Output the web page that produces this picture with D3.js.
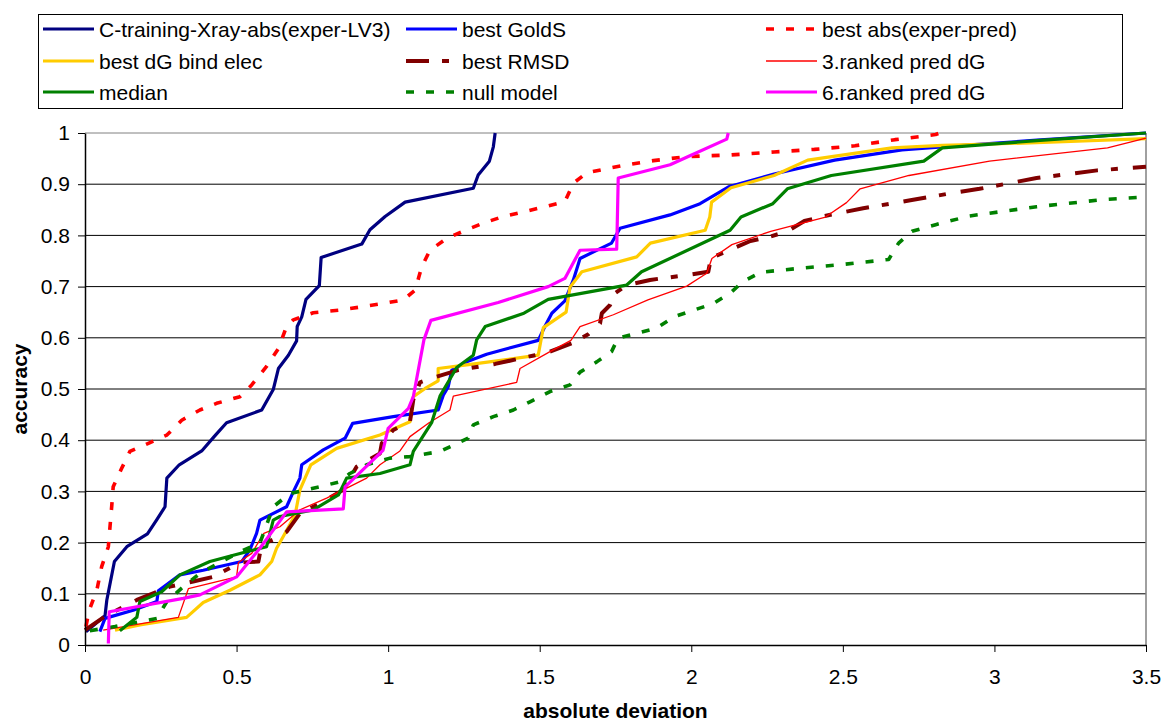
<!DOCTYPE html>
<html><head><meta charset="utf-8">
<script src="https://cdn.jsdelivr.net/npm/d3@7"></script>
<style>
body{margin:0;background:#fff}
text{font-family:"Liberation Sans",Arial,Helvetica,sans-serif;fill:#000}
</style>
</head><body>
<svg id="chart" width="1165" height="724"></svg>
<script>
// ---------- data ----------
const xTicks = [0, 0.5, 1, 1.5, 2, 2.5, 3, 3.5];
const yTicks = [0, 0.1, 0.2, 0.3, 0.4, 0.5, 0.6, 0.7, 0.8, 0.9, 1];
const xTitle = "absolute deviation";
const yTitle = "accuracy";

const cTraining = [[0.003,0.026],[0.066,0.057],[0.072,0.088],[0.097,0.163],[0.138,0.192],[0.206,0.217],[0.237,0.245],[0.264,0.270],[0.270,0.326],[0.311,0.352],[0.385,0.379],[0.426,0.407],[0.467,0.434],[0.583,0.459],[0.621,0.499],[0.638,0.540],[0.671,0.566],[0.698,0.594],[0.700,0.622],[0.715,0.641],[0.729,0.675],[0.773,0.702],[0.779,0.757],[0.913,0.783],[0.940,0.811],[0.990,0.837],[1.056,0.865],[1.281,0.892],[1.297,0.918],[1.334,0.945],[1.347,0.973],[1.353,1.0]];
const bestGoldS = [[0.049,0.026],[0.066,0.052],[0.159,0.068],[0.237,0.085],[0.242,0.106],[0.313,0.137],[0.390,0.146],[0.517,0.163],[0.544,0.186],[0.566,0.218],[0.577,0.244],[0.665,0.270],[0.687,0.299],[0.709,0.326],[0.715,0.352],[0.786,0.381],[0.858,0.404],[0.883,0.433],[1.017,0.446],[1.165,0.459],[1.182,0.488],[1.198,0.504],[1.210,0.537],[1.259,0.553],[1.325,0.568],[1.495,0.595],[1.517,0.622],[1.540,0.648],[1.583,0.672],[1.611,0.713],[1.633,0.755],[1.737,0.785],[1.765,0.814],[1.930,0.840],[2.029,0.862],[2.123,0.895],[2.273,0.920],[2.473,0.947],[2.695,0.967],[2.827,0.973],[3.140,0.986],[3.5,1.0]];
const bestAbs = [[0.003,0.036],[0.014,0.068],[0.039,0.107],[0.055,0.153],[0.077,0.192],[0.088,0.270],[0.093,0.309],[0.121,0.345],[0.148,0.378],[0.209,0.394],[0.270,0.410],[0.319,0.439],[0.379,0.459],[0.434,0.472],[0.511,0.485],[0.550,0.508],[0.599,0.544],[0.638,0.579],[0.665,0.622],[0.687,0.635],[0.753,0.649],[0.841,0.654],[0.907,0.660],[0.973,0.666],[1.050,0.674],[1.089,0.693],[1.111,0.739],[1.138,0.771],[1.193,0.794],[1.259,0.811],[1.314,0.824],[1.380,0.837],[1.446,0.846],[1.517,0.856],[1.583,0.866],[1.611,0.902],[1.655,0.922],[1.726,0.931],[1.798,0.939],[1.875,0.946],[1.985,0.954],[2.128,0.957],[2.273,0.963],[2.406,0.968],[2.540,0.975],[2.672,0.987],[2.806,0.997],[2.820,1.0]];
const bestDG = [[0.099,0.029],[0.181,0.039],[0.335,0.054],[0.390,0.083],[0.478,0.107],[0.577,0.137],[0.616,0.163],[0.632,0.189],[0.654,0.212],[0.693,0.254],[0.709,0.303],[0.745,0.352],[0.830,0.384],[0.973,0.410],[1.072,0.436],[1.083,0.485],[1.122,0.501],[1.165,0.516],[1.165,0.540],[1.259,0.547],[1.495,0.566],[1.512,0.620],[1.587,0.650],[1.600,0.699],[1.639,0.729],[1.820,0.758],[1.865,0.785],[2.046,0.810],[2.061,0.836],[2.067,0.865],[2.131,0.893],[2.273,0.917],[2.384,0.947],[2.662,0.971],[2.828,0.976],[3.139,0.981],[3.5,0.989]];
const bestRMSD = [[0.0,0.029],[0.066,0.056],[0.171,0.088],[0.280,0.114],[0.357,0.124],[0.423,0.133],[0.511,0.161],[0.572,0.163],[0.577,0.179],[0.594,0.199],[0.621,0.206],[0.665,0.221],[0.709,0.257],[0.786,0.280],[0.852,0.303],[0.896,0.348],[0.973,0.374],[0.979,0.394],[1.017,0.420],[1.072,0.436],[1.083,0.479],[1.105,0.513],[1.160,0.524],[1.231,0.537],[1.353,0.549],[1.484,0.566],[1.533,0.573],[1.605,0.589],[1.660,0.607],[1.699,0.628],[1.705,0.648],[1.732,0.664],[1.748,0.687],[1.787,0.703],[1.864,0.713],[1.990,0.723],[2.056,0.729],[2.065,0.756],[2.129,0.772],[2.195,0.789],[2.262,0.798],[2.317,0.808],[2.373,0.828],[2.440,0.838],[2.567,0.853],[2.718,0.868],[2.873,0.884],[2.951,0.891],[3.139,0.912],[3.339,0.927],[3.5,0.934]];
const ranked3 = [[0.060,0.029],[0.308,0.054],[0.341,0.110],[0.500,0.133],[0.506,0.161],[0.550,0.179],[0.590,0.218],[0.643,0.231],[0.709,0.264],[0.797,0.287],[0.852,0.303],[0.929,0.326],[0.973,0.352],[1.039,0.379],[1.072,0.407],[1.135,0.434],[1.204,0.459],[1.215,0.486],[1.424,0.513],[1.435,0.540],[1.534,0.573],[1.603,0.595],[1.633,0.622],[1.743,0.645],[1.857,0.674],[1.985,0.701],[2.051,0.726],[2.068,0.755],[2.134,0.782],[2.262,0.808],[2.373,0.825],[2.440,0.835],[2.512,0.864],[2.557,0.891],[2.718,0.917],[2.984,0.945],[3.373,0.971],[3.5,0.990]];
const median = [[0.115,0.028],[0.171,0.054],[0.181,0.085],[0.253,0.104],[0.313,0.137],[0.412,0.163],[0.533,0.182],[0.599,0.192],[0.621,0.244],[0.643,0.251],[0.753,0.264],[0.836,0.293],[0.863,0.326],[0.973,0.335],[1.072,0.352],[1.083,0.378],[1.144,0.435],[1.171,0.486],[1.226,0.542],[1.281,0.566],[1.292,0.596],[1.320,0.622],[1.448,0.648],[1.528,0.675],[1.787,0.703],[1.836,0.729],[2.128,0.810],[2.164,0.836],[2.269,0.862],[2.317,0.891],[2.462,0.917],[2.767,0.945],[2.828,0.971],[3.139,0.985],[3.5,1.0]];
const nullModel = [[0.016,0.028],[0.099,0.036],[0.237,0.052],[0.270,0.085],[0.319,0.111],[0.379,0.140],[0.445,0.161],[0.511,0.182],[0.577,0.199],[0.621,0.270],[0.676,0.296],[0.775,0.309],[0.841,0.319],[0.874,0.335],[0.929,0.352],[1.006,0.365],[1.072,0.368],[1.171,0.378],[1.264,0.404],[1.281,0.430],[1.347,0.446],[1.413,0.459],[1.468,0.475],[1.534,0.495],[1.600,0.508],[1.633,0.533],[1.688,0.553],[1.737,0.573],[1.758,0.599],[1.886,0.619],[1.943,0.641],[2.073,0.667],[2.128,0.687],[2.171,0.710],[2.229,0.728],[2.362,0.736],[2.495,0.743],[2.651,0.753],[2.684,0.785],[2.728,0.808],[2.806,0.821],[2.918,0.838],[3.139,0.856],[3.361,0.870],[3.5,0.875]];
const ranked6 = [[0.077,0.003],[0.080,0.065],[0.324,0.091],[0.379,0.098],[0.500,0.133],[0.577,0.189],[0.665,0.260],[0.852,0.266],[0.858,0.309],[0.983,0.380],[1.000,0.423],[1.067,0.462],[1.083,0.485],[1.118,0.596],[1.141,0.634],[1.363,0.669],[1.528,0.700],[1.583,0.716],[1.633,0.771],[1.754,0.773],[1.759,0.912],[1.930,0.938],[2.001,0.957],[2.117,0.988],[2.122,1.0]];

const seriesNames = ["C-training-Xray-abs(exper-LV3)","best GoldS","best abs(exper-pred)","best dG bind elec","best RMSD","3.ranked pred dG","median","null model","6.ranked pred dG"];
const seriesData = [cTraining, bestGoldS, bestAbs, bestDG, bestRMSD, ranked3, median, nullModel, ranked6];

// ---------- styles ----------
const styles = [
  {color:"#000080", width:3.2, dash:null},
  {color:"#0000FF", width:3.2, dash:null},
  {color:"#FF0000", width:3.6, dash:"8,12"},
  {color:"#FFCC00", width:3.2, dash:null},
  {color:"#800000", width:4, dash:"23,13,7,15"},
  {color:"#FF0000", width:1.3, dash:null},
  {color:"#008000", width:3.2, dash:null},
  {color:"#008000", width:3.6, dash:"8,12"},
  {color:"#FF00FF", width:3.2, dash:null}
];

const svg = d3.select("#chart");
const L = 85, R = 1146, T = 133, B = 645;
const x = d3.scaleLinear().domain([0, 3.5]).range([L, R]);
const y = d3.scaleLinear().domain([0, 1]).range([B, T]);
const fmt = d => String(+(+d).toFixed(1));
const FS = 21;

// gridlines
svg.append("g").selectAll("line").data(yTicks.filter(d => d > 0)).join("line")
  .attr("x1", L).attr("x2", R).attr("y1", d => y(d)).attr("y2", d => y(d))
  .attr("stroke", d => d === 1 ? "#808080" : "#000").attr("stroke-width", 1);
// right border
svg.append("line").attr("x1", R).attr("x2", R).attr("y1", T).attr("y2", B)
  .attr("stroke", "#808080").attr("stroke-width", 1.5);

// series
const line = d3.line().x(d => x(d[0])).y(d => y(d[1]));
const gS = svg.append("g");
seriesData.forEach((s, i) => {
  const st = styles[i];
  gS.append("path").datum(s).attr("d", line)
    .attr("fill", "none").attr("stroke", st.color).attr("stroke-width", st.width)
    .attr("stroke-linejoin", "round")
    .attr("stroke-dasharray", st.dash);
});

// axes
const yAxis = d3.axisLeft(y).tickValues(yTicks).tickFormat(fmt).tickSize(7).tickSizeOuter(0).tickPadding(8);
const xAxis = d3.axisBottom(x).tickValues(xTicks).tickFormat(fmt).tickSize(7).tickSizeOuter(0).tickPadding(17);
const gy = svg.append("g").attr("transform", `translate(${L},0)`).call(yAxis);
const gx = svg.append("g").attr("transform", `translate(0,${B})`).call(xAxis);
[gx, gy].forEach(g => {
  g.selectAll("text").attr("font-size", FS).attr("font-family", '"Liberation Sans",Arial,sans-serif').attr("fill", "#000");
  g.selectAll("line").attr("stroke", "#000");
  g.select(".domain").attr("stroke", "#000").attr("stroke-width", 1.5);
});

// titles
svg.append("text").attr("x", (L + R) / 2).attr("y", 718).attr("text-anchor", "middle")
  .attr("font-size", FS).attr("font-weight", "bold").text(xTitle);
svg.append("text").attr("transform", `translate(27,${(T + B) / 2}) rotate(-90)`).attr("text-anchor", "middle")
  .attr("font-size", FS).attr("font-weight", "bold").text(yTitle);

// legend
svg.append("rect").attr("x", 38.5).attr("y", 14.5).attr("width", 1084).attr("height", 94)
  .attr("fill", "#fff").attr("stroke", "#000").attr("stroke-width", 1);
const colX = [43, 406, 766];
const colT = [99, 462, 822];
const rowY = [29, 61, 92];
seriesNames.forEach((name, i) => {
  const c = i % 3, r = Math.floor(i / 3), st = styles[i];
  svg.append("line").attr("x1", colX[c]).attr("x2", colX[c] + 51).attr("y1", rowY[r]).attr("y2", rowY[r])
    .attr("stroke", st.color).attr("stroke-width", st.width).attr("stroke-dasharray", st.dash);
  svg.append("text").attr("x", colT[c]).attr("y", rowY[r]).attr("dy", "0.36em")
    .attr("font-size", FS).text(name);
});
</script>
</body></html>
